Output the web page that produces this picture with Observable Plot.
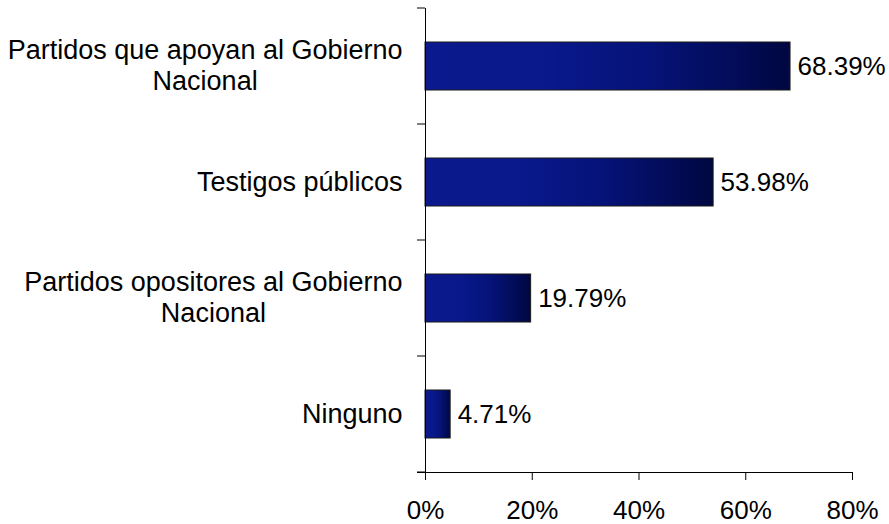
<!DOCTYPE html>
<html>
<head>
<meta charset="utf-8">
<script src="https://cdn.jsdelivr.net/npm/d3@7"></script>
<script src="https://cdn.jsdelivr.net/npm/@observablehq/plot@0.6"></script>
<style>
  html, body { margin: 0; padding: 0; background: #fff; }
  #chart svg { display: block; }
</style>
</head>
<body>
<div id="chart"></div>
<script>
// ---- data ----
const categories = [
  "Partidos que apoyan al Gobierno Nacional",
  "Testigos públicos",
  "Partidos opositores al Gobierno Nacional",
  "Ninguno"
];
const categoryLabels = [
  "Partidos que apoyan al Gobierno\nNacional",
  "Testigos públicos",
  "Partidos opositores al Gobierno\nNacional",
  "Ninguno"
];
const values = [68.39, 53.98, 19.79, 4.71];
const xTicks = [0, 20, 40, 60, 80];

const data = categories.map((c, i) => ({cat: c, value: values[i]}));

const FONT = "'Liberation Sans', Arial, sans-serif";
const FONT_SIZE = 26;
const LABEL_SIZE = 27;

// measure widest line of each label for centered multi-line labels
const ctx = document.createElement("canvas").getContext("2d");
ctx.font = `${LABEL_SIZE}px ${FONT}`;
const labelWidth = s => d3.max(s.split("\n"), l => ctx.measureText(l).width);

// gradient defs mark
const gradientDefs = () => {
  const svg = d3.create("svg:defs");
  const g = svg.append("linearGradient")
    .attr("id", "barGrad").attr("x1", "0").attr("x2", "1").attr("y1", "0").attr("y2", "0");
  [[0, "#0a1a8e"], [0.35, "#09188a"], [0.6, "#06137a"], [0.85, "#020c58"], [1, "#000740"]]
    .forEach(([o, c]) => g.append("stop").attr("offset", o).attr("stop-color", c));
  return svg.node();
};

const chart = Plot.plot({
  width: 889,
  height: 524,
  marginLeft: 425,
  marginRight: 37,
  marginTop: 8,
  marginBottom: 52,
  style: {fontFamily: FONT, fontSize: FONT_SIZE + "px", color: "#000", background: "#fff"},
  x: {domain: [0, 80], axis: null, label: null},
  y: {domain: categories, paddingInner: 0.586, paddingOuter: 0.293, axis: null, label: null},
  marks: [
    gradientDefs,
    Plot.barX(data, {x: "value", y: "cat", fill: "url(#barGrad)", stroke: "#1a1a1a", strokeWidth: 1}),
    Plot.text(data, {x: "value", y: "cat", text: d => d.value.toFixed(2) + "%", textAnchor: "start", dx: 7, fill: "#000"}),
    ...categories.map((c, i) => Plot.text([c], {
      y: d => d,
      frameAnchor: "left",
      text: () => categoryLabels[i],
      textAnchor: "middle",
      lineHeight: 1.167,
      fontSize: LABEL_SIZE,
      dx: -(23 + labelWidth(categoryLabels[i]) / 2),
      dy: -2,
      fill: "#000"
    })),
    Plot.ruleX([0], {stroke: "#000", strokeWidth: 1, insetBottom: -8}),
    Plot.frame({anchor: "bottom", stroke: "#000", strokeWidth: 1, insetLeft: -8}),
    Plot.axisX({ticks: xTicks, tickFormat: d => d + "%", tickSize: 8, tickPadding: 20, label: null, stroke: "#000", strokeOpacity: 1, fill: "#000", fontSize: FONT_SIZE})
  ]
});

document.getElementById("chart").appendChild(chart);

// category boundary ticks on the y axis, from Plot's own y scale
const ys = chart.scale("y");
const xs = chart.scale("x");
const x0 = xs.apply(0);
const gap = (ys.step - ys.bandwidth) / 2;
const bounds = categories.map(c => ys.apply(c) - gap);
bounds.push(ys.apply(categories[categories.length - 1]) + ys.bandwidth + gap);
const svgSel = d3.select(chart.tagName.toLowerCase() === "svg" ? chart : chart.querySelector("svg"));
svgSel.append("g")
  .selectAll("line").data(bounds).join("line")
  .attr("x1", x0 - 8).attr("x2", x0)
  .attr("y1", d => d).attr("y2", d => d)
  .attr("stroke", "#000").attr("stroke-width", 1);
</script>
</body>
</html>
